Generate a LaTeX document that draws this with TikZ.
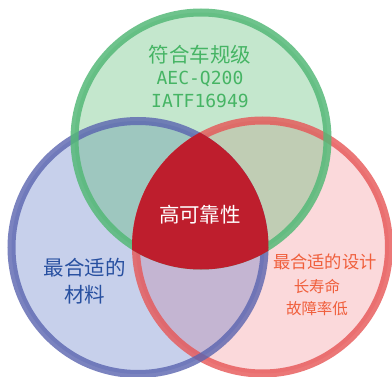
\documentclass[tikz,border=0pt]{standalone}
\usepackage{fontspec}
\setmainfont{Noto Sans CJK SC}
\newfontfamily\monofont{DejaVu Sans Mono}
\usepackage{xcolor}
\usepackage{tikz}
\usetikzlibrary{positioning}
\definecolor{green base}{RGB}{70,180,100}
\definecolor{green line}{RGB}{85,185,120}
\definecolor{blue base}{RGB}{70,100,190}
\definecolor{blue line}{RGB}{90,100,175}
\definecolor{red base}{RGB}{235,80,90}
\definecolor{red line}{RGB}{230,85,85}
\definecolor{core red}{RGB}{190,30,45}
\definecolor{green text}{RGB}{70,180,100}
\definecolor{blue text}{RGB}{40,80,160}
\definecolor{red text}{RGB}{240,95,60}
\tikzset{
    ring/.style={line width=8pt,draw opacity=0.85},
    green disc/.style={fill=green base,fill opacity=0.32},
    blue disc/.style={fill=blue base,fill opacity=0.3},
    red disc/.style={fill=red base,fill opacity=0.22},
    green ring/.style={ring,draw=green line},
    blue ring/.style={ring,draw=blue line,draw opacity=0.8},
    red ring/.style={ring,draw=red line,draw opacity=0.8},
    big text/.style={font=\fontsize{20.5}{24}\selectfont,inner sep=0pt},
    small text/.style={font=\fontsize{15.5}{18}\selectfont,inner sep=0pt},
    code text/.style={font=\monofont\fontsize{18}{20}\selectfont,inner sep=0pt},
}
\begin{document}
\begin{tikzpicture}[x=1pt,y=1pt]
        \useasboundingbox (0,0) rectangle (392,376);
        \coordinate (g) at (201,237);
        \coordinate (b) at (138,128.5);
        \coordinate (r) at (262.5,129);
        % red at the bottom, green on top
        \fill[red disc] (r) circle (126.5);
        \fill[blue disc] (b) circle (126.5);
        \fill[green disc] (g) circle (126.5);
        \draw[red ring] (r) circle (126.5);
        \draw[blue ring] (b) circle (126.5);
        \draw[green ring] (g) circle (126.5);
        \begin{scope}
            \clip (g) circle (130.5);
            \clip (b) circle (130.5);
            \fill[core red] (r) circle (130.5);
        \end{scope}
        \node[big text,green text] (std) at (200,321) {符合车规级};
        \node[code text,green text] (aec) at (200,297) {AEC-Q200};
        \node[code text,green text] (iatf) at (200,275) {IATF16949};
        \node[big text,white] (core) at (200,161) {高可靠性};
        \node[big text,blue text] (mat1) at (85,108) {最合适的};
        \node[big text,blue text] (mat2) at (85,81) {材料};
        \node[font=\fontsize{17.3}{20}\selectfont,inner sep=0pt,red text] (des) at (325,114) {最合适的设计};
        \node[small text,red text] (life) at (317,89) {长寿命};
        \node[small text,red text] (fail) at (317,67) {故障率低};
    \end{tikzpicture}
\end{document}
